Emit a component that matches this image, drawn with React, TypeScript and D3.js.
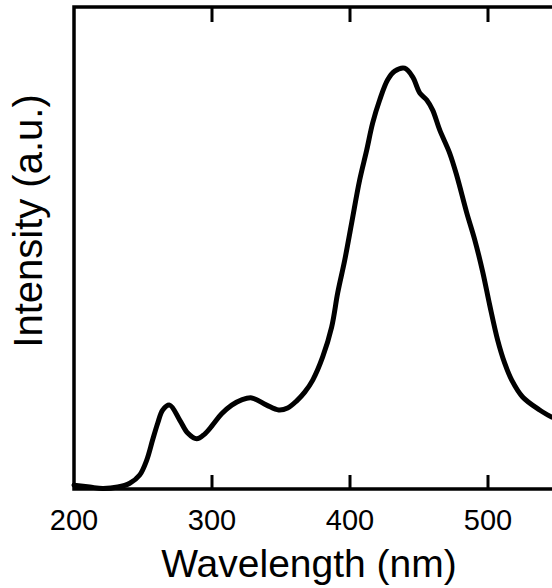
import React from 'react';
import * as d3 from 'd3';

const width = 552;
const height = 588;

// spectrum (nm, arbitrary units)
const wavelength = [
  200, 211.4, 220.8, 231.7, 240.4, 247.6, 252.7, 257.0, 260.7, 264.3, 269.3,
  276.6, 282.4, 288.9, 294.7, 300.5, 307.0, 314.3, 321.5, 328.8, 339.6, 348.3,
  354.8, 361.4, 367.2, 373.0, 380.2, 386.7, 391.1, 396.2, 401.2, 407.0, 412.1,
  416.4, 421.5, 427.3, 432.4, 439.6, 445.4, 450.5, 455.6, 459.9, 465.0, 472.2,
  477.3, 484.6, 490.4, 496.2, 501.2, 507.0, 512.1, 517.2, 525.1, 537.4, 546.2,
];
const intensity = [
  0.8, 0.4, 0.1, 0.4, 1.2, 2.9, 6.0, 10.2, 13.7, 16.4, 17.4,
  14.3, 11.6, 10.4, 11.4, 13.3, 15.6, 17.4, 18.5, 18.9, 17.4, 16.4,
  16.8, 18.3, 20.1, 22.6, 27.4, 33.6, 40.7, 47.5, 55.2, 64.1, 70.3,
  75.9, 80.7, 84.9, 86.7, 87.3, 85.5, 82.2, 80.7, 78.6, 74.5, 69.7,
  65.1, 57.3, 51.7, 45.0, 38.2, 30.9, 26.1, 22.6, 19.1, 16.4, 14.9,
];
const xTicks = [300, 400, 500];
const xTickLabels = [200, 300, 400, 500];

const font = '"Liberation Sans", Arial, sans-serif';

const App = () => {
  const x = d3.scaleLinear().domain([200, 600]).range([74, 626]);
  const y = d3.scaleLinear().domain([0, 100]).range([489, 7]);

  const points = wavelength.map((w, i) => [w, intensity[i]] as [number, number]);
  const line = d3
    .line<[number, number]>()
    .x(d => x(d[0]))
    .y(d => y(d[1]))
    .curve(d3.curveCatmullRom.alpha(0.5));

  const x0 = x.range()[0];
  const x1 = x.range()[1];
  const yBottom = y(0);
  const yTop = y(100);

  return (
    <svg
      width={width}
      height={height}
      style={{ position: 'absolute', left: 0, top: 0, background: '#fff' }}
    >
      <path
        d={line(points) || ''}
        fill="none"
        stroke="#000"
        strokeWidth={5}
        strokeLinejoin="round"
        strokeLinecap="round"
      />
      {/* frame */}
      <path
        d={`M${x1},${yTop}H${x0}V${yBottom}H${x1}`}
        fill="none"
        stroke="#000"
        strokeWidth={3.5}
      />
      {xTicks.map(t => (
        <g key={t}>
          <line x1={x(t)} x2={x(t)} y1={yBottom} y2={yBottom - 14} stroke="#000" strokeWidth={3} />
          <line x1={x(t)} x2={x(t)} y1={yTop} y2={yTop + 15} stroke="#000" strokeWidth={3} />
        </g>
      ))}
      {xTickLabels.map(t => (
        <text
          key={t}
          x={x(t)}
          y={530}
          textAnchor="middle"
          fontFamily={font}
          fontSize={29}
          fill="#000"
        >
          {t}
        </text>
      ))}
      <text x={309} y={577} textAnchor="middle" fontFamily={font} fontSize={39} fill="#000">
        Wavelength (nm)
      </text>
      <text
        transform="translate(42,221) rotate(-90)"
        textAnchor="middle"
        fontFamily={font}
        fontSize={40}
        fill="#000"
      >
        Intensity (a.u.)
      </text>
    </svg>
  );
};

export default App;
